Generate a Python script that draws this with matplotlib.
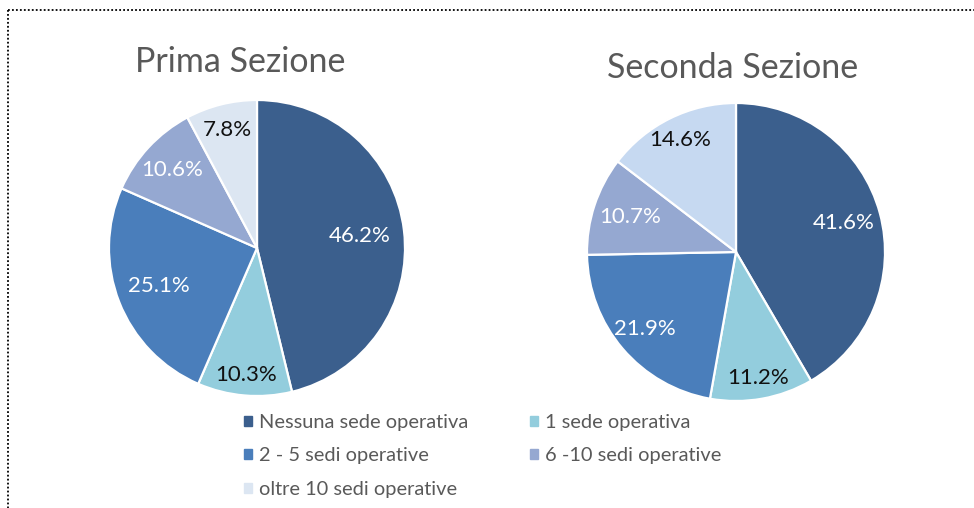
import matplotlib
matplotlib.use("Agg")
import matplotlib.pyplot as plt
import matplotlib.patches as mpatches
from matplotlib.lines import Line2D
import numpy as np

# dati
categorie = ["Nessuna sede operativa", "1 sede operativa", "2 - 5 sedi operative",
             "6 -10 sedi operative", "oltre 10 sedi operative"]
prima = [46.2, 10.3, 25.1, 10.6, 7.8]
seconda = [41.6, 11.2, 21.9, 10.7, 14.6]
titoli = ["Prima Sezione", "Seconda Sezione"]

colori_prima = ["#3B5F8D", "#93CDDD", "#4A7EBB", "#95A8D1", "#DCE6F2"]
colori_seconda = ["#3B5F8D", "#93CDDD", "#4A7EBB", "#95A8D1", "#C6D9F1"]
col_testo = ["white", "#111111", "white", "white", "#111111"]

plt.rcParams["font.family"] = ["Lato", "DejaVu Sans"]

W, H = 974, 508
fig = plt.figure(figsize=(W / 100, H / 100), dpi=100)

def px_axes(cx, cy, r):
    # asse quadrato in pixel attorno al centro della torta
    return fig.add_axes([(cx - r) / W, (H - cy - r) / H, 2 * r / W, 2 * r / H])

def torta(ax, valori, colori, raggi_et):
    wedges, _ = ax.pie(valori, colors=colori, startangle=90, counterclock=False,
                       wedgeprops=dict(edgecolor="white", linewidth=1.6))
    for w, v, c, rr in zip(wedges, valori, col_testo, raggi_et):
        ang = np.deg2rad((w.theta1 + w.theta2) / 2)
        ax.text(rr * np.cos(ang), rr * np.sin(ang), f"{v:.1f}%", ha="center", va="center",
                color=c, fontsize=16)
    ax.set_xlim(-1, 1)
    ax.set_ylim(-1, 1)
    ax.set_aspect("equal")
    ax.axis("off")

ax1 = px_axes(257, 248, 148)
torta(ax1, prima, colori_prima, [0.70, 0.86, 0.71, 0.78, 0.82])
ax2 = px_axes(736, 252, 149)
torta(ax2, seconda, colori_seconda, [0.75, 0.86, 0.80, 0.75, 0.84])

fig.text(240 / W, 1 - 62 / H, titoli[0], ha="center", va="center", fontsize=24.5, color="#595959")
fig.text(733 / W, 1 - 68 / H, titoli[1], ha="center", va="center", fontsize=24.5, color="#595959")

# legenda (ordine per colonne)
handles = [mpatches.Patch(color=c, label=l) for c, l in zip(colori_prima, categorie)]
ordine = [0, 2, 4, 1, 3]
fig.legend([handles[i] for i in ordine], [categorie[i] for i in ordine],
           loc="upper left", bbox_to_anchor=(244 / W, 1 - 414 / H), ncol=2, frameon=False,
           fontsize=14.4, labelcolor="#595959", handlelength=0.4, handleheight=0.4,
           handletextpad=0.35, columnspacing=3.1, labelspacing=0.82, borderpad=0, borderaxespad=0)

# bordo tratteggiato
fig.add_artist(Line2D([8 / W, 1], [1 - 10 / H, 1 - 10 / H], transform=fig.transFigure,
                      color="black", lw=1.3, linestyle=(0, (1, 1.2))))
fig.add_artist(Line2D([8 / W, 8 / W], [1 - 10 / H, 0], transform=fig.transFigure,
                      color="black", lw=1.3, linestyle=(0, (1, 1.2))))

fig.savefig("out.png", dpi=100, facecolor="white")
